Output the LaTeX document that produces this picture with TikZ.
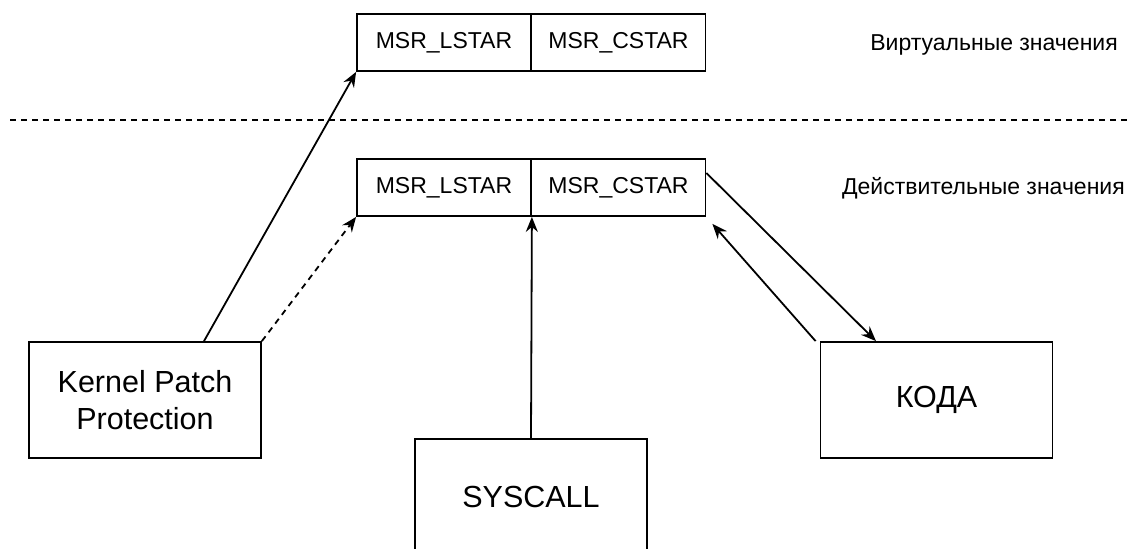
\documentclass[tikz,border=0pt]{standalone}
\usepackage{fontspec}
\setmainfont{Liberation Sans}
\usetikzlibrary{arrows.meta}
\begin{document}
\begin{tikzpicture}[x=1pt,y=-1pt,
  box/.style={draw,line width=1.8pt,inner sep=0pt,align=center},
  regbox/.style={box,minimum width=174pt,minimum height=57pt,font=\fontsize{23}{27.5}\selectfont},
  bigbox/.style={box,minimum width=232pt,minimum height=116pt,font=\fontsize{30.5}{36.5}\selectfont},
  lbl/.style={inner sep=0pt,anchor=east,font=\fontsize{23}{27.5}\selectfont},
  arr/.style={line width=1.8pt,-{Stealth[length=15pt,width=12pt,inset=5pt]}}]
\clip (0,0) rectangle (1128,549);
\fill[white] (0,0) rectangle (1128,549);
% top (virtual) registers
\node[regbox] (vl) at (444,42.5) {MSR\_LSTAR};
\node[regbox] (vc) at (618.5,42.5) {MSR\_CSTAR};
% bottom (real) registers
\node[regbox] (rl) at (444,187.5) {MSR\_LSTAR};
\node[regbox] (rc) at (618.5,187.5) {MSR\_CSTAR};
% separator
\coordinate (s1) at (10,120);
\coordinate (s2) at (1128,120);
\draw[line width=1.8pt,dash pattern=on 6pt off 5pt] (s1) -- (s2);
% labels
\node[lbl] (tv) at (1118,45) {Виртуальные значения};
\node[lbl] (tr) at (1125,188) {Действительные значения};
% big boxes
\node[bigbox] (kpp) at (145,400) {Kernel Patch\\Protection};
\node[bigbox] (koda) at (936.5,400) {КОДА};
\node[bigbox] (sys) at (531,497) {SYSCALL};
% connectors
\draw[arr] ([xshift=59pt]kpp.north) -- (vl.south west);
\draw[arr,dash pattern=on 6pt off 5pt] (kpp.north east) -- (rl.south west);
\draw[arr] (sys.north) -- (rl.south east);
\draw[arr] ([yshift=14.5pt]rc.east) -- ([xshift=-60.5pt]koda.north);
\draw[arr] ([xshift=-4pt]koda.north west) -- ([xshift=6pt,yshift=-7pt]rc.south east);
\end{tikzpicture}
\end{document}
